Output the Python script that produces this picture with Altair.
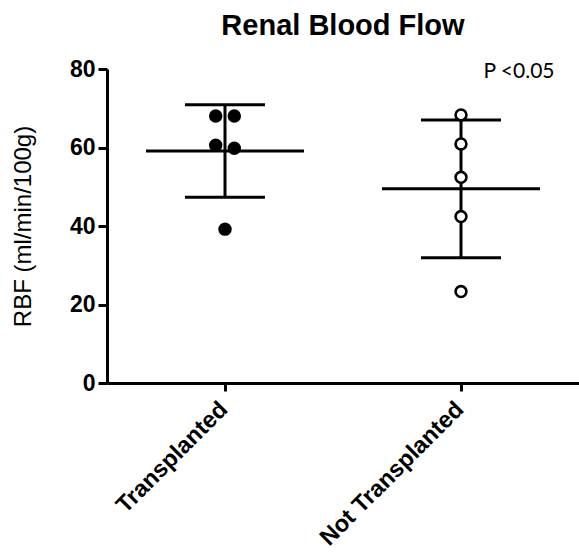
import altair as alt
import pandas as pd

# ---- data ----
groups = ["Transplanted", "Not Transplanted"]
transplanted = [68.0, 68.0, 60.6, 59.8, 39.2]
not_transplanted = [68.3, 60.9, 52.4, 42.4, 23.3]
y_ticks = [0, 20, 40, 60, 80]
chart_title = "Renal Blood Flow"
y_title = "RBF (ml/min/100g)"
p_label = ["P <0.05"]

FONT = "Liberation Sans"
SPREAD = 18.6  # horizontal spacing (px) between near-equal points

rows = []
for g, vals in zip(groups, [transplanted, not_transplanted]):
    clusters = []
    for v in sorted(vals, reverse=True):
        if clusters and abs(clusters[-1][-1] - v) < 2.5:
            clusters[-1].append(v)
        else:
            clusters.append([v])
    for c in clusters:
        n = len(c)
        for i, v in enumerate(c):
            rows.append({"group": g, "rbf": v, "off": (i - (n - 1) / 2) * SPREAD})
df = pd.DataFrame(rows)

x_enc = alt.X(
    "group:N",
    sort=groups,
    scale=alt.Scale(type="point", padding=0.5),
    axis=alt.Axis(title=None, labelAngle=-45, tickSize=8, labelPadding=6, labelOffset=-10,
                  labelBaseline="top", labelAlign="right", labelLimit=0, labelFontSize=23.5),
)
y_scale = alt.Scale(domain=[0, 80], nice=False, zero=True)
y_axis = alt.Axis(values=y_ticks, title=y_title, tickSize=9, labelPadding=3, titlePadding=34)


def y_enc(field):
    return alt.Y(field, type="quantitative", scale=y_scale, axis=y_axis, title=y_title)


base = alt.Chart(df)

points = base.mark_point(
    shape="circle", size=118, stroke="black", strokeWidth=2.6, opacity=1, fillOpacity=1
).encode(
    x=x_enc,
    y=y_enc("rbf"),
    xOffset=alt.XOffset("off:Q", scale=None),
    fill=alt.Fill("group:N", scale=alt.Scale(domain=groups, range=["black", "white"]), legend=None),
)

stats = base.transform_aggregate(
    mean="mean(rbf)", sd="stdev(rbf)", groupby=["group"]
).transform_calculate(
    lo="datum.mean - datum.sd", hi="datum.mean + datum.sd"
)

mean_line = stats.mark_tick(size=158, thickness=3, color="black", opacity=1).encode(x=x_enc, y=y_enc("mean"))
cap_hi = stats.mark_tick(size=80, thickness=3, color="black", opacity=1).encode(x=x_enc, y=y_enc("hi"))
cap_lo = stats.mark_tick(size=80, thickness=3, color="black", opacity=1).encode(x=x_enc, y=y_enc("lo"))
whisker = stats.mark_rule(strokeWidth=3, color="black").encode(x=x_enc, y=y_enc("lo"), y2="hi:Q")

ann_df = pd.DataFrame({"group": [groups[1]], "rbf": [80], "label": p_label})
annot = alt.Chart(ann_df).mark_text(
    font="Lato", fontSize=21, align="center", baseline="middle", dx=58, dy=3, color="black"
).encode(x=x_enc, y=y_enc("rbf"), text="label:N")

chart = (
    alt.layer(whisker, mean_line, cap_hi, cap_lo, points, annot)
    .properties(
        width=472,
        height=314,
        autosize=alt.AutoSizeParams(type="none"),
        padding={"left": 107, "top": 69, "right": 0, "bottom": 169},
        title=alt.TitleParams(
            chart_title, font=FONT, fontSize=29, fontWeight="bold", color="black",
            anchor="middle", offset=17,
        ),
    )
    .configure_view(stroke=None)
    .configure_axis(
        domainColor="black", domainWidth=3, tickColor="black", tickWidth=3,
        labelFont=FONT, labelFontWeight="bold", labelFontSize=23, labelColor="black",
        titleFont=FONT, titleFontWeight="normal", titleFontSize=24, titleColor="black",
        grid=False,
    )
)

chart.save("out.html", embed_options={"renderer": "svg", "actions": False})
